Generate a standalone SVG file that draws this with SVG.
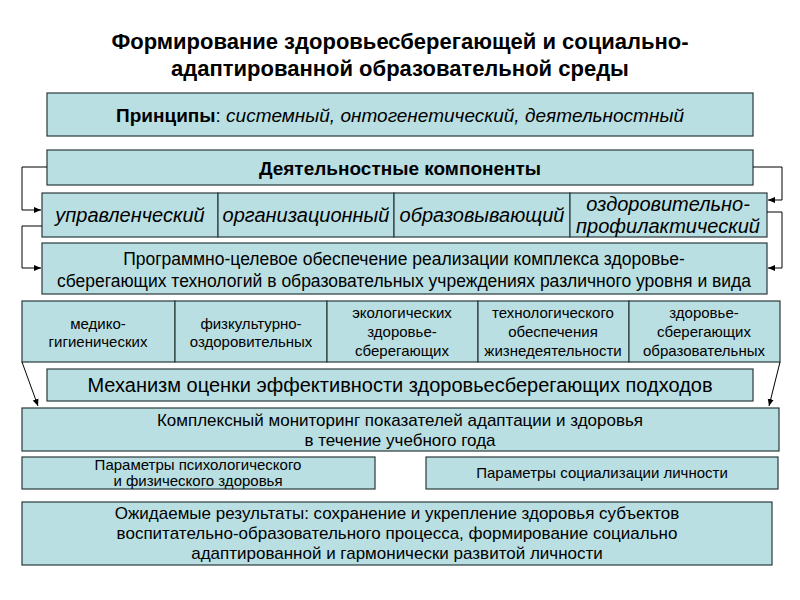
<svg xmlns="http://www.w3.org/2000/svg" width="800" height="600" viewBox="0 0 800 600">
<style>
.b{fill:#b9dfe2;stroke:#2a3a3a;stroke-width:1.2}
text{font-family:"Liberation Sans",Arial,sans-serif;fill:#000;text-anchor:middle}
.i{font-style:italic;font-size:20px}
.s{font-size:15px}
.c{fill:none;stroke:#000;stroke-width:1}
</style>
<defs><marker id="a" markerWidth="8" markerHeight="8" refX="7" refY="4" orient="auto" markerUnits="userSpaceOnUse"><path d="M0,1L7,4L0,7z" fill="#000"/></marker></defs>
<rect width="800" height="600" fill="#fff"/>
<g id="title"><text x="400" y="49" font-size="22" font-weight="bold">Формирование здоровьесберегающей и социально-</text><text x="400" y="76" font-size="22" font-weight="bold">адаптированной образовательной среды</text></g>
<g id="principles"><rect class="b" x="47" y="93" width="706" height="43"/><text x="400" y="122" font-size="19"><tspan font-weight="bold">Принципы</tspan>: <tspan font-style="italic">системный, онтогенетический, деятельностный</tspan></text></g>
<g id="components"><rect class="b" x="47" y="150" width="706" height="35"/><text x="400" y="175" font-size="19" font-weight="bold">Деятельностные компоненты</text></g>
<g id="types">
<rect class="b" x="42" y="193" width="176" height="44"/><text class="i" x="130" y="222">управленческий</text>
<rect class="b" x="218" y="193" width="176" height="44"/><text class="i" x="306" y="222">организационный</text>
<rect class="b" x="394" y="193" width="176" height="44"/><text class="i" x="482" y="222">образовывающий</text>
<rect class="b" x="570" y="193" width="197" height="44"/><text class="i" x="668" y="211" font-size="19">оздоровительно-</text><text class="i" x="668" y="233" font-size="19">профилактический</text>
</g>
<g id="program"><rect class="b" x="42" y="243" width="725" height="51"/><text x="404" y="265" font-size="17.5">Программно-целевое обеспечение реализации комплекса здоровье-</text><text x="404" y="287" font-size="17.5">сберегающих технологий в образовательных учреждениях различного уровня и вида</text></g>
<g id="tech">
<rect class="b" x="22" y="301" width="153" height="61"/><text class="s" x="98" y="329">медико-</text><text class="s" x="98" y="347">гигиенических</text>
<rect class="b" x="175" y="301" width="152" height="61"/><text class="s" x="251" y="329">физкультурно-</text><text class="s" x="251" y="347">оздоровительных</text>
<rect class="b" x="327" y="301" width="151" height="61"/><text class="s" x="402" y="318">экологических</text><text class="s" x="402" y="337">здоровье-</text><text class="s" x="402" y="356">сберегающих</text>
<rect class="b" x="478" y="301" width="151" height="61"/><text class="s" x="553" y="318">технологического</text><text class="s" x="553" y="337">обеспечения</text><text class="s" x="553" y="356">жизнедеятельности</text>
<rect class="b" x="629" y="301" width="151" height="61"/><text class="s" x="704" y="318">здоровье-</text><text class="s" x="704" y="337">сберегающих</text><text class="s" x="704" y="356">образовательных</text>
</g>
<g id="mechanism"><rect class="b" x="47" y="369" width="706" height="32"/><text x="400" y="392" font-size="20">Механизм оценки эффективности здоровьесберегающих подходов</text></g>
<g id="monitoring"><rect class="b" x="22" y="408" width="757" height="43"/><text x="400" y="426" font-size="17">Комплексный мониторинг показателей адаптации и здоровья</text><text x="400" y="446" font-size="17">в течение учебного года</text></g>
<g id="psych"><rect class="b" x="22" y="457" width="353" height="32"/><text class="s" x="198" y="470">Параметры психологического</text><text class="s" x="198" y="486">и физического здоровья</text></g>
<g id="social"><rect class="b" x="426" y="457" width="352" height="32"/><text class="s" x="602" y="478">Параметры социализации личности</text></g>
<g id="result"><rect class="b" x="22" y="502" width="750" height="63"/><text x="397" y="519" font-size="17">Ожидаемые результаты: сохранение и укрепление здоровья субъектов</text><text x="397" y="539" font-size="17">воспитательно-образовательного процесса, формирование социально</text><text x="397" y="559" font-size="17">адаптированной и гармонически развитой личности</text></g>
<g id="connectors">
<path class="c" d="M47,167H22V210H41" marker-end="url(#a)"/>
<path class="c" d="M42,226H22V268H41" marker-end="url(#a)"/>
<path class="c" d="M753,167H782V200H768" marker-end="url(#a)"/>
<path class="c" d="M767,212H782V268H768" marker-end="url(#a)"/>
<path class="c" d="M22,362L38,406" marker-end="url(#a)"/>
<path class="c" d="M780,362L769,406" marker-end="url(#a)"/>
</g>
</svg>
